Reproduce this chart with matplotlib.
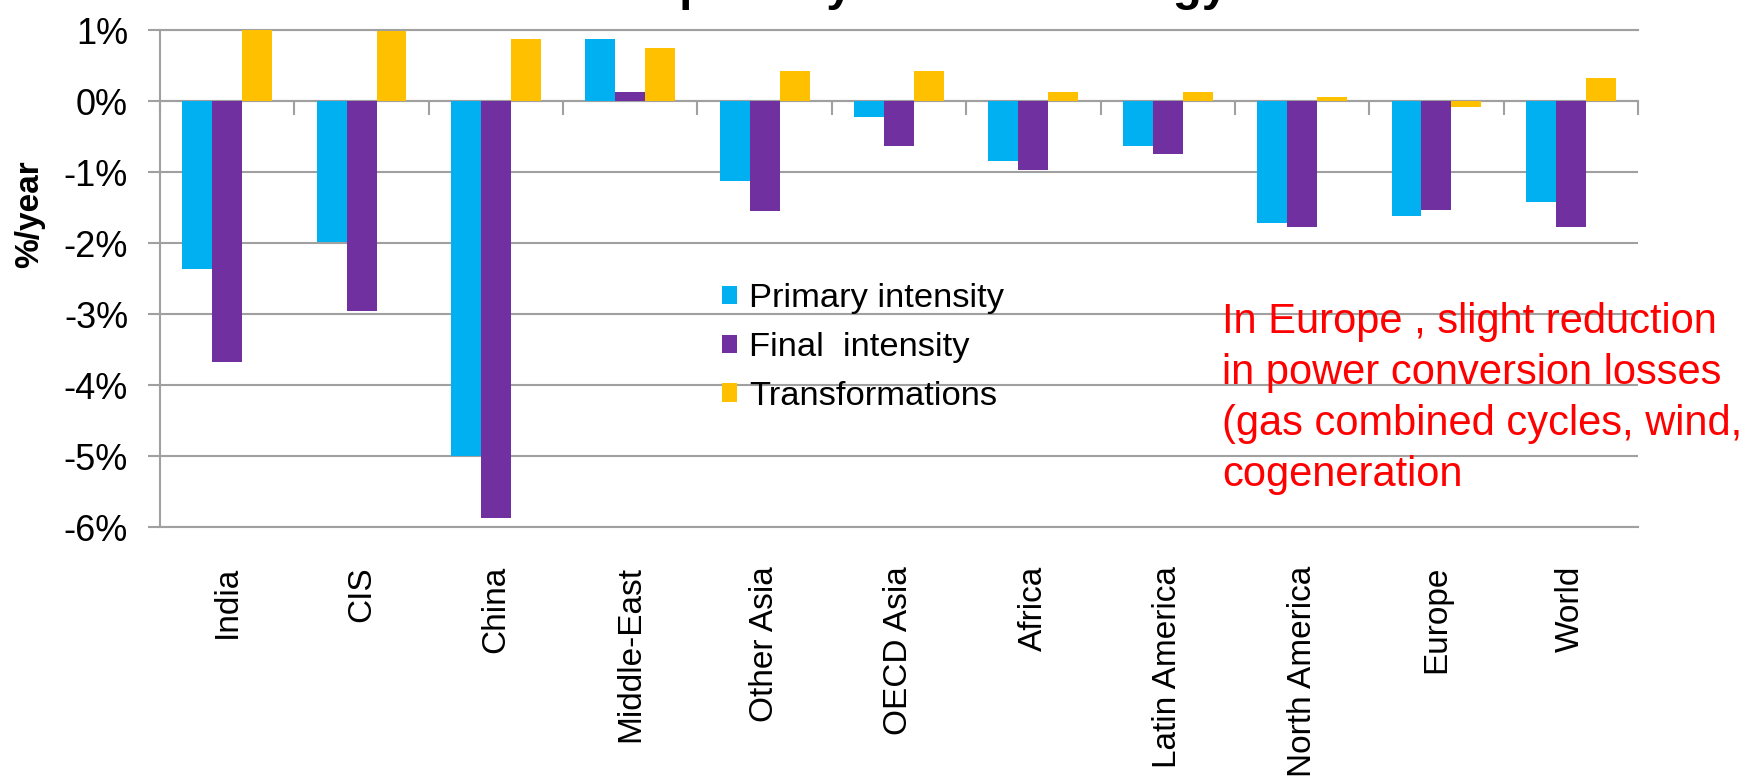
import matplotlib
matplotlib.use("Agg")
import matplotlib.pyplot as plt
import numpy as np

plt.rcParams['font.family'] = ['Liberation Sans', 'DejaVu Sans']

# Annual variation of energy intensities by region (%/year)
regions = ["India", "CIS", "China", "Middle-East", "Other Asia", "OECD Asia",
           "Africa", "Latin America", "North America", "Europe", "World"]
primary = [-2.37, -1.99, -5.00, 0.87, -1.13, -0.22, -0.85, -0.63, -1.72, -1.62, -1.42]
final = [-3.68, -2.96, -5.87, 0.13, -1.55, -0.63, -0.97, -0.74, -1.78, -1.53, -1.77]
transfo = [1.00, 0.99, 0.87, 0.74, 0.42, 0.42, 0.13, 0.13, 0.06, -0.08, 0.33]

series_names = ["Primary intensity", "Final  intensity", "Transformations"]
colors = ["#00B0F0", "#7030A0", "#FFC000"]

yticks = [1, 0, -1, -2, -3, -4, -5, -6]
ytick_labels = ["1%", "0%", "-1%", "-2%", "-3%", "-4%", "-5%", "-6%"]

grey = "#A0A0A0"

fig = plt.figure(figsize=(17.56, 7.78), dpi=100)
ax = fig.add_axes([0.0911, 0.3226, 0.8417, 0.6388])

x = np.arange(len(regions))
w = 0.223
for i, (vals, name, c) in enumerate(zip([primary, final, transfo], series_names, colors)):
    ax.bar(x + (i - 1) * w, vals, width=w, color=c, label=name, zorder=3)

ymin, ymax = -6, 1
ax.set_ylim(ymin, ymax)
ax.set_xlim(-0.5, len(regions) - 0.5)

ax.set_yticks(yticks)
ax.set_yticklabels(ytick_labels, fontsize=26)
ax.tick_params(axis='y', direction='out', length=9, width=1.5, color=grey, pad=14)
ax.yaxis.grid(True, color=grey, linewidth=1.5, zorder=0)

ax.set_xticks(x)
ax.set_xticklabels(regions, rotation=90, fontsize=24, va='top')
ax.tick_params(axis='x', length=0, pad=28)

for side in ['top', 'bottom', 'left']:
    ax.spines[side].set_color(grey)
    ax.spines[side].set_linewidth(1.5)
ax.spines['right'].set_visible(False)

# category axis crossing at 0%, with tick marks between groups
zero_pos = (0 - ymin) / (ymax - ymin)
sec = ax.secondary_xaxis(zero_pos)
sec.set_xticks(np.arange(len(regions) + 1) - 0.5)
sec.set_xticklabels([])
sec.tick_params(direction='in', length=10, width=1.5, color=grey)
for s in sec.spines.values():
    s.set_color(grey)
    s.set_linewidth(1.5)

ax.set_ylabel("%/year", fontsize=24, fontweight='bold')
ax.yaxis.set_label_coords(-0.078, 0.63)

ax.legend(loc='upper left', bbox_to_anchor=(0.411, 0.636), bbox_transform=fig.transFigure,
          frameon=False, fontsize=24.8, handlelength=0.45, handleheight=0.45,
          handletextpad=0.35, labelspacing=0.52, borderpad=0, borderaxespad=0)

fig.text(0.696, 0.612, "In Europe , slight reduction\nin power conversion losses\n"
         "(gas combined cycles, wind,\ncogeneration",
         color="red", fontsize=30, va='top', ha='left', linespacing=1.36)

# title sits above the top edge of the figure
fig.text(0.233, 1.0, "Variation of primary and final energy intensities",
         fontsize=34, fontweight='bold', ha='left', va='baseline')

fig.savefig("out.png", dpi=100)
